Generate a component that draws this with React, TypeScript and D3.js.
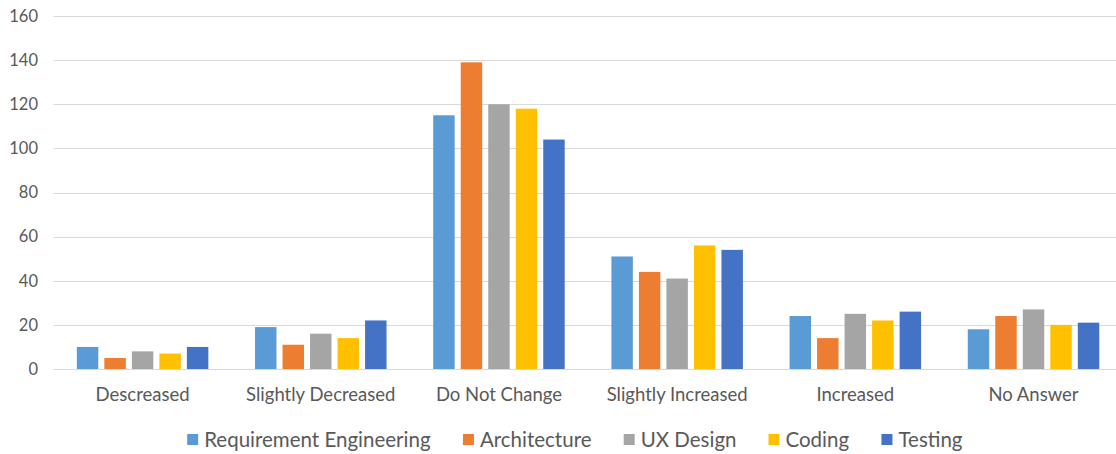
import React, { useRef, useEffect } from 'react';
import * as d3 from 'd3';

const categories = ['Descreased', 'Slightly Decreased', 'Do Not Change', 'Slightly Increased', 'Increased', 'No Answer'];
const seriesNames = ['Requirement Engineering', 'Architecture', 'UX Design', 'Coding', 'Testing'];
const seriesColors = ['#5B9BD5', '#ED7D31', '#A5A5A5', '#FFC000', '#4472C4'];

const requirementEngineering = [10, 19, 115, 51, 24, 18];
const architecture = [5, 11, 139, 44, 14, 24];
const uxDesign = [8, 16, 120, 41, 25, 27];
const coding = [7, 14, 118, 56, 22, 20];
const testing = [10, 22, 104, 54, 26, 21];

const seriesValues = [requirementEngineering, architecture, uxDesign, coding, testing];
const yTicks = [0, 20, 40, 60, 80, 100, 120, 140, 160];

const FONT = 'Lato, "Noto Sans", sans-serif';
const TEXT_COLOR = '#595959';

const App: React.FC = () => {
  const chartRef = useRef<SVGSVGElement | null>(null);
  const width = 1116;
  const height = 454;

  useEffect(() => {
    if (!chartRef.current) return;
    const svg = d3.select(chartRef.current);
    svg.selectAll('*').remove();

    const plotLeft = 53.5;
    const plotRight = 1122.6;
    const plotTop = 16;
    const plotBottom = 369;

    const x = d3.scaleBand<string>()
      .domain(categories)
      .range([plotLeft, plotRight])
      .paddingInner(0.262)
      .paddingOuter(0.131);

    const xSub = d3.scaleBand<string>()
      .domain(seriesNames)
      .range([0, x.bandwidth()])
      .paddingInner(0.22)
      .paddingOuter(0);

    const y = d3.scaleLinear().domain([0, 160]).range([plotBottom, plotTop]);

    // Gridlines
    svg.append('g')
      .selectAll('line')
      .data(yTicks)
      .enter()
      .append('line')
      .attr('x1', plotLeft)
      .attr('x2', plotRight)
      .attr('y1', d => Math.round(y(d)) + 0.5)
      .attr('y2', d => Math.round(y(d)) + 0.5)
      .attr('stroke', '#D9D9D9')
      .attr('stroke-width', 1);

    // Y tick labels
    svg.append('g')
      .selectAll('text')
      .data(yTicks)
      .enter()
      .append('text')
      .attr('x', 38)
      .attr('y', d => y(d))
      .attr('dy', '0.35em')
      .attr('text-anchor', 'end')
      .attr('font-family', FONT)
      .attr('font-size', '16.5px')
      .attr('fill', TEXT_COLOR)
      .text(d => d);

    // Bars
    const groups = svg.append('g')
      .selectAll('g')
      .data(categories)
      .enter()
      .append('g')
      .attr('transform', d => `translate(${x(d)},0)`);

    groups.selectAll('rect')
      .data((_, i) => seriesNames.map((name, s) => ({ name, value: seriesValues[s][i], color: seriesColors[s] })))
      .enter()
      .append('rect')
      .attr('x', d => xSub(d.name) as number)
      .attr('y', d => y(d.value))
      .attr('width', xSub.bandwidth())
      .attr('height', d => y(0) - y(d.value))
      .attr('fill', d => d.color);

    // Category labels
    svg.append('g')
      .selectAll('text')
      .data(categories)
      .enter()
      .append('text')
      .attr('x', d => (x(d) as number) + x.bandwidth() / 2)
      .attr('y', 395)
      .attr('dy', '0.35em')
      .attr('text-anchor', 'middle')
      .attr('font-family', FONT)
      .attr('font-size', '18.5px')
      .attr('fill', TEXT_COLOR)
      .text(d => d);

    // Legend
    const legend = svg.append('g');
    const items = legend.selectAll('g')
      .data(seriesNames)
      .enter()
      .append('g');

    items.append('rect')
      .attr('width', 11)
      .attr('height', 11)
      .attr('y', 434)
      .attr('fill', (_, i) => seriesColors[i]);

    items.append('text')
      .attr('x', 17)
      .attr('y', 440)
      .attr('dy', '0.35em')
      .attr('font-family', FONT)
      .attr('font-size', '20.5px')
      .attr('fill', TEXT_COLOR)
      .text(d => d);

    const itemGap = 32;
    const widths: number[] = [];
    items.each(function () {
      widths.push((this as SVGGElement).getBBox().width);
    });
    const total = d3.sum(widths) + itemGap * (widths.length - 1);
    let cursor = 575 - total / 2;
    items.attr('transform', (_, i) => {
      const tx = cursor;
      cursor += widths[i] + itemGap;
      return `translate(${tx},0)`;
    });
  }, []);

  return (
    <svg
      ref={chartRef}
      width={width}
      height={height}
      style={{ position: 'fixed', left: 0, top: 0, background: '#fff' }}
    />
  );
};

export default App;
